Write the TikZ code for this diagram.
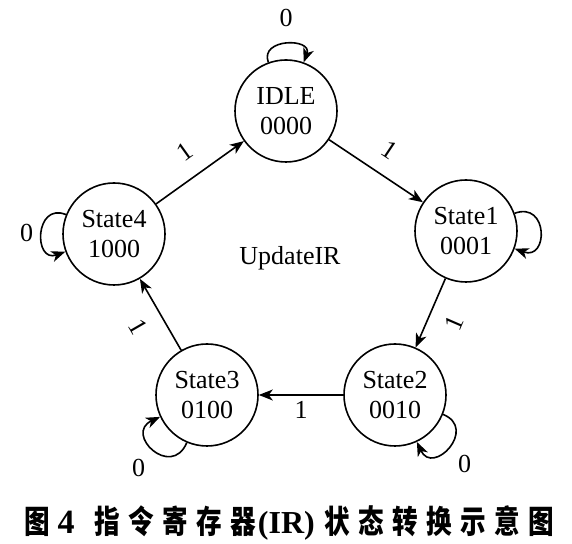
\documentclass[tikz,border=0pt]{standalone}
\usepackage{fontspec}
\setmainfont{Liberation Serif}
\newfontfamily\cjk{Noto Sans CJK SC}[FakeStretch=0.8,LetterSpace=26]
\usetikzlibrary{automata,positioning,arrows.meta}

\begin{document}
\begin{tikzpicture}[x=0.5pt,y=0.5pt,line width=0.8pt,auto,
        >={Stealth[length=7pt,width=5.5pt,inset=2pt]},
        every state/.style={draw,minimum size=51pt,inner sep=0pt,align=center},
        font=\fontsize{13}{15}\selectfont,
        edgelbl/.style={sloped,inner sep=8pt},
        looplbl/.style={inner sep=4pt}]
        \useasboundingbox (0,0) rectangle (572,544);
        \node[state] (idle) at (286,433) {IDLE\\0000};
        \node[state] (s1) at (466,313) {State1\\0001};
        \node[state] (s2) at (395,149) {State2\\0010};
        \node[state] (s3) at (207,149) {State3\\0100};
        \node[state] (s4) at (114,310) {State4\\1000};
        \node (upd) at (290,286) {UpdateIR};
        \path[->]
        (idle) edge node[edgelbl] {1} (s1)
               edge [out=110,in=70,distance=13pt] node[looplbl,above,inner sep=8pt] {0} (idle)
        (s1) edge node[edgelbl,swap] {1} (s2)
             edge [out=20,in=-20,distance=18pt] (s1)
        (s2) edge node[below,inner sep=3pt] {1} (s3)
             edge [out=-22,in=-65,distance=19pt] node[looplbl,below right] {0} (s2)
        (s3) edge node[edgelbl,swap] {1} (s4)
             edge [out=247,in=205,distance=20pt] node[looplbl,below left] {0} (s3)
        (s4) edge node[edgelbl] {1} (idle)
             edge [out=158,in=200,distance=17pt] node[looplbl,left] {0} (s4);
        % caption
        \node (cap) at (289,21) {\fontsize{16}{18}\selectfont\bfseries
            {\cjk 图}\hspace{4pt}{\fontsize{17}{18}\selectfont\rmfamily 4}\hspace{10pt}{\cjk 指令寄存器}\hspace{1pt}{\rmfamily (IR)}\hspace{5pt}{\cjk 状态转换示意图}};
\end{tikzpicture}
\end{document}
